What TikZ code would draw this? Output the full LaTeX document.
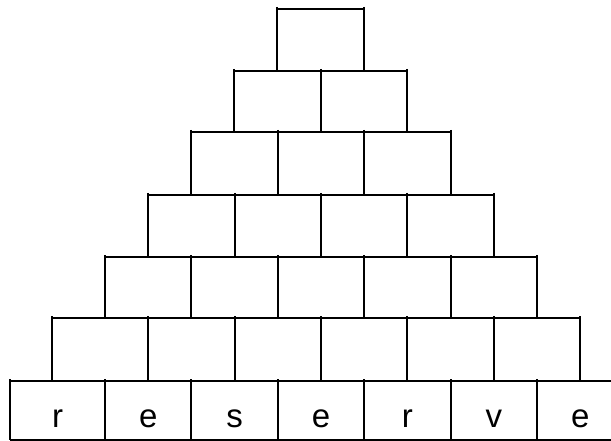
\documentclass[tikz,border=0pt]{standalone}
\usepackage{fontspec}
\setmainfont{Liberation Sans}
\usepackage{tikz}

\begin{document}
\begin{tikzpicture}[
    x=1pt,y=-1pt,
    brick/.style={draw=black,line width=1.6pt},
    letter/.style={font=\fontsize{33}{33}\selectfont,anchor=base,inner sep=0pt}
  ]
    \useasboundingbox (0,0) rectangle (611,441);

    % 各层砖块：层号/上沿/下沿/左端
    \foreach \r/\ty/\by/\lft in {1/381/440/10,2/318/381/52,3/257/318/105,4/195/257/148,
                                 5/132/195/191,6/71/132/234,7/9/71/277}{
      \pgfmathsetmacro{\xg}{18.6+(\r-1)*43.2}
      \pgfmathtruncatemacro{\n}{8-\r}
      \pgfmathtruncatemacro{\rgt}{round(\xg+\n*86.4)}
      \draw[brick] (\lft,\ty)--(\rgt,\ty);
      \draw[brick] (\lft,\ty-2)--(\lft,\by);
      \foreach \k in {1,...,\n}{
        \pgfmathtruncatemacro{\xk}{round(\xg+\k*86.4)}
        \draw[brick] (\xk,\ty-2)--(\xk,\by);
      }
    }
    \draw[brick] (10,440)--(624,440);

    % 底层字母
    \foreach \i/\x/\c in {1/57.5/r,2/148.2/e,3/234.6/s,4/321/e,5/407.4/r,6/493.8/v,7/580.2/e}{
      \node[letter] (l\i) at (\x,427) {\c};
    }
  \end{tikzpicture}
\end{document}
